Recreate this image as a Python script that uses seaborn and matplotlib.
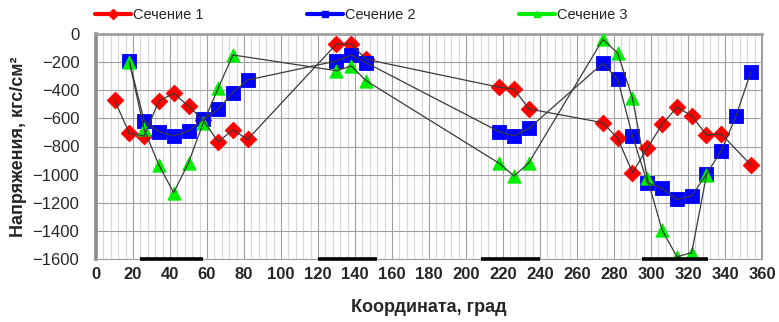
import matplotlib
matplotlib.use("Agg")
import matplotlib.pyplot as plt
from matplotlib.lines import Line2D
from matplotlib.ticker import MultipleLocator
import numpy as np
import pandas as pd
import seaborn as sns

# Stress measurements along the circumference, three sections
x_sec1 = [10, 18, 26, 34, 42, 50, 58, 66, 74, 82, 130, 138, 146, 218, 226, 234,
          274, 282, 290, 298, 306, 314, 322, 330, 338, 354]
y_sec1 = [-469, -706, -725, -476, -422, -512, -615, -766, -683, -749, -71, -71, -180,
          -379, -391, -533, -631, -742, -986, -813, -642, -521, -581, -718, -711, -932]

x_sec2 = [18, 26, 34, 42, 50, 58, 66, 74, 82, 130, 138, 146, 218, 226, 234,
          274, 282, 290, 298, 306, 314, 322, 330, 338, 346, 354]
y_sec2 = [-192, -617, -695, -725, -690, -607, -536, -417, -327, -192, -149, -204,
          -695, -725, -671, -208, -322, -725, -1057, -1097, -1176, -1152, -996,
          -830, -583, -268]

x_sec3 = [18, 26, 34, 42, 50, 58, 66, 74, 130, 138, 146, 218, 226, 234,
          274, 282, 290, 298, 306, 314, 322, 330]
y_sec3 = [-197, -678, -932, -1128, -915, -631, -386, -149, -261, -228, -332,
          -920, -1010, -915, -38, -137, -457, -1026, -1394, -1584, -1555, -1003]

series_names = ["Сечение 1", "Сечение 2", "Сечение 3"]

# Angular zones marked along the bottom of the chart
zone_start = [24, 120, 208, 295]
zone_end = [58, 152, 240, 331]

frames = []
for name, xs, ys in zip(series_names, [x_sec1, x_sec2, x_sec3], [y_sec1, y_sec2, y_sec3]):
    frames.append(pd.DataFrame({"coord": xs, "stress": ys, "series": name}))
df = pd.concat(frames, ignore_index=True)

sns.set_theme(style="white")
plt.rcParams["font.family"] = ["Liberation Sans", "DejaVu Sans"]

fig = plt.figure(figsize=(7.79, 3.22), dpi=100)
ax = fig.add_axes([96 / 779, 1 - 259 / 322, (762 - 96) / 779, (259 - 34) / 322])

colors = {"Сечение 1": "#ff0000", "Сечение 2": "#0000ff", "Сечение 3": "#00ee00"}
markers = {"Сечение 1": "D", "Сечение 2": "s", "Сечение 3": "^"}
sizes = {"Сечение 1": 72, "Сечение 2": 92, "Сечение 3": 92}

for name in series_names:
    sub = df[df["series"] == name]
    sns.scatterplot(data=sub, x="coord", y="stress", ax=ax, marker=markers[name],
                    color=colors[name], s=sizes[name], edgecolor=colors[name],
                    linewidth=0.6, zorder=3, legend=False)

for name in series_names:
    sub = df[df["series"] == name]
    sns.lineplot(data=sub, x="coord", y="stress", ax=ax, color="#3a3a3a",
                 linewidth=0.9, sort=True, estimator=None, zorder=4, legend=False)

ax.hlines([-1600] * len(zone_start), zone_start, zone_end, colors="black",
          linewidth=2.6, zorder=5, clip_on=False)

ax.set_xlim(0, 360)
ax.set_ylim(-1600, 0)
ax.xaxis.set_major_locator(MultipleLocator(20))
ax.xaxis.set_minor_locator(MultipleLocator(4))
ax.yaxis.set_major_locator(MultipleLocator(200))
ax.grid(which="minor", axis="x", color="#d8d8d8", linewidth=0.8)
ax.grid(which="major", axis="both", color="#a0a0a0", linewidth=0.8)
ax.set_axisbelow(True)
ax.tick_params(axis="both", which="both", length=0)
ax.tick_params(axis="x", pad=6, labelsize=12)
ax.tick_params(axis="y", pad=12, labelsize=12)
for lbl in ax.get_xticklabels():
    lbl.set_fontweight("bold")

ax.spines["left"].set_color("#8c8c8c")
ax.spines["left"].set_linewidth(2.6)
ax.spines["top"].set_color("#a0a0a0")
ax.spines["top"].set_linewidth(2.0)
ax.spines["right"].set_color("#a0a0a0")
ax.spines["right"].set_linewidth(1.5)
ax.spines["bottom"].set_color("#a0a0a0")
ax.spines["bottom"].set_linewidth(0.8)

ax.set_xlabel("Координата, град", fontsize=13, fontweight="bold", labelpad=12)
ax.set_ylabel("Напряжения, кгс/см²", fontsize=13, fontweight="bold", labelpad=4)

handles = [Line2D([0], [0], color=colors[n], linewidth=3, marker=markers[n],
                  markersize=5, markerfacecolor=colors[n], markeredgecolor=colors[n])
           for n in series_names]
fig.legend(handles, series_names, loc="center left",
           bbox_to_anchor=(95 / 779, 1 - 15 / 322), ncol=3, frameon=False,
           handlelength=2.45, handletextpad=0.15, columnspacing=7.1,
           borderaxespad=0, borderpad=0,
           prop={"family": ["Liberation Sans", "DejaVu Sans"], "size": 10.5})

fig.savefig("out.png", dpi=100)
